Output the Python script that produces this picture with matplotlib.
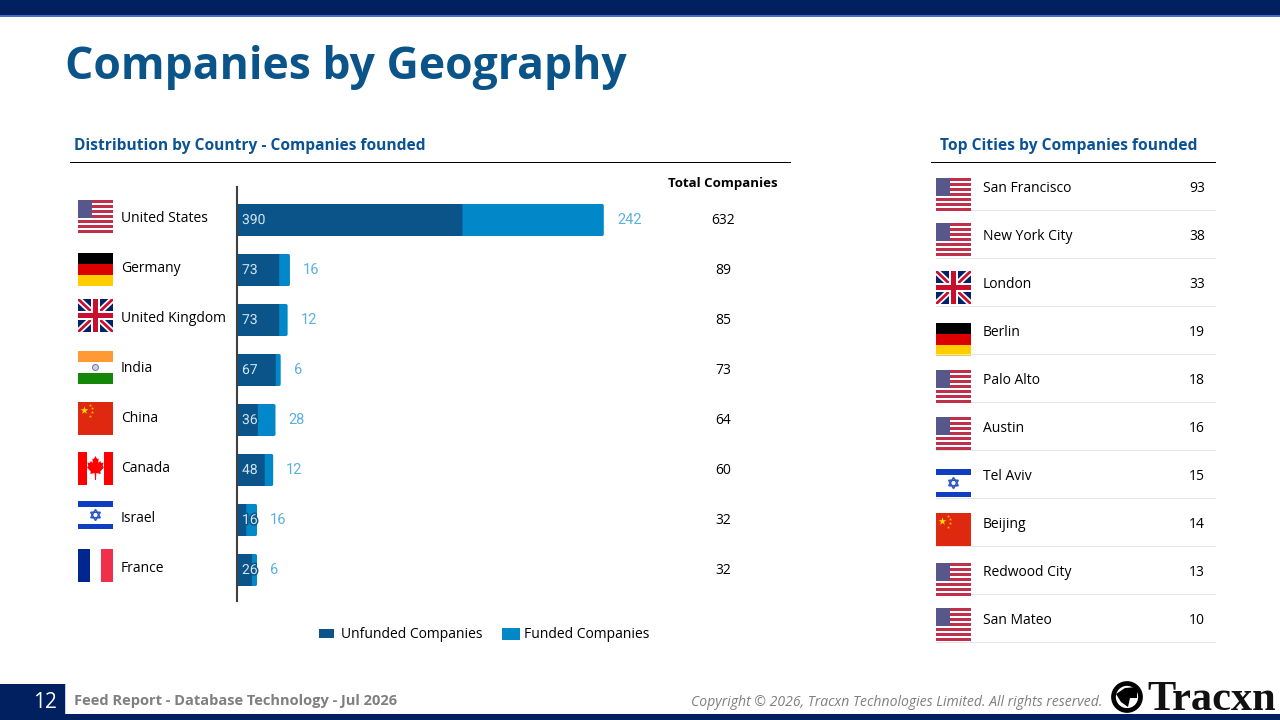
import matplotlib
matplotlib.use('Agg')
import matplotlib.pyplot as plt
import matplotlib.patheffects as pe
from matplotlib.patches import Rectangle, Polygon, Circle

plt.rcParams['font.family'] = ['Open Sans', 'DejaVu Sans']

countries = ['United States', 'Germany', 'United Kingdom', 'India', 'China', 'Canada', 'Israel', 'France']
country_flags = ['us', 'de', 'uk', 'in', 'cn', 'ca', 'il', 'fr']
unfunded = [390, 73, 73, 67, 36, 48, 16, 26]
funded = [242, 16, 12, 6, 28, 12, 16, 6]
totals = [632, 89, 85, 73, 64, 60, 32, 32]

cities = ['San Francisco', 'New York City', 'London', 'Berlin', 'Palo Alto', 'Austin',
          'Tel Aviv', 'Beijing', 'Redwood City', 'San Mateo']
city_flags = ['us', 'us', 'uk', 'de', 'us', 'us', 'il', 'cn', 'us', 'us']
city_counts = [93, 38, 33, 19, 18, 16, 15, 14, 13, 10]

NAVY = '#00205f'
DARK_BLUE = '#0a5489'
LIGHT_BLUE = '#0288c9'
HEAD_BLUE = '#0b5394'

fig = plt.figure(figsize=(12.8, 7.2), dpi=100)

# full figure axes in pixels, for everything that is not the bar chart
page = fig.add_axes([0, 0, 1, 1])
page.set_xlim(0, 1280)
page.set_ylim(720, 0)
page.axis('off')


def rect(x, y, w, h, color, z=1):
    page.add_patch(Rectangle((x, y), w, h, facecolor=color, edgecolor='none', zorder=z))


def flag(kind, x, y, w=35, h=33):
    # y is the top edge of the flag
    if kind == 'us':
        stripe = h / 13
        rect(x, y, w, h, 'white')
        for i in range(0, 13, 2):
            rect(x, y + i * stripe, w, stripe, '#c0304a', 2)
        rect(x, y, w * 0.4, stripe * 7, '#57578c', 3)
    elif kind == 'de':
        rect(x, y, w, h / 3, 'black')
        rect(x, y + h / 3, w, h / 3, '#dd0000')
        rect(x, y + 2 * h / 3, w, h / 3, '#ffce00')
    elif kind == 'uk':
        bg = Rectangle((x, y), w, h, facecolor='#012169', edgecolor='none', zorder=1)
        page.add_patch(bg)
        for c, lw in (('white', 4.5), ('#c8102e', 2)):
            for ys in ((y, y + h), (y + h, y)):
                ln, = page.plot([x, x + w], ys, color=c, lw=lw, zorder=2)
                ln.set_clip_path(bg)
        rect(x + w / 2 - 4.5, y, 9, h, 'white', 3)
        rect(x, y + h / 2 - 4.5, w, 9, 'white', 3)
        rect(x + w / 2 - 2.5, y, 5, h, '#c8102e', 4)
        rect(x, y + h / 2 - 2.5, w, 5, '#c8102e', 4)
    elif kind == 'in':
        rect(x, y, w, h / 3, '#ff9933')
        rect(x, y + 2 * h / 3, w, h / 3, '#138808')
        page.add_patch(Circle((x + w / 2, y + h / 2), 3, facecolor='#c8cfe6', edgecolor='#5a6aa0', lw=0.6, zorder=2))
    elif kind == 'cn':
        rect(x, y, w, h, '#de2910')
        page.scatter([x + 6], [y + 8], s=34, marker='*', color='#ffde00', linewidths=0, zorder=2)
        page.scatter([x + 12, x + 14, x + 14, x + 12], [y + 3, y + 6, y + 10, y + 14], s=6,
                     marker='*', color='#f5b400', linewidths=0, zorder=2)
    elif kind == 'ca':
        rect(x, y, w * 0.25, h, '#ff0000')
        rect(x + w * 0.75, y, w * 0.25, h, '#ff0000')
        cx = x + w / 2
        leaf = [(0, 4), (2, 7), (4, 6.5), (3.2, 11), (6, 9), (7, 11), (10, 10.5), (9, 14), (10.5, 15.5),
                (6, 19.5), (6.5, 22), (1, 21), (0.6, 28), (-0.6, 28), (-1, 21), (-6.5, 22), (-6, 19.5),
                (-10.5, 15.5), (-9, 14), (-10, 10.5), (-7, 11), (-6, 9), (-3.2, 11), (-4, 6.5), (-2, 7)]
        page.add_patch(Polygon([(cx + a * 0.8, y + b) for a, b in leaf], facecolor='#ff0000', edgecolor='none', zorder=2))
    elif kind == 'il':
        rect(x, y, w, 5.5, '#0f3fc0')
        rect(x, y + h - 5.5, w, 5.5, '#0f3fc0')
        cx, cy, r = x + w / 2, y + h / 2, 5.5
        page.add_patch(Polygon([(cx, cy - r), (cx + r * 0.87, cy + r / 2), (cx - r * 0.87, cy + r / 2)],
                               fill=False, edgecolor='#2a55c8', lw=1.1, zorder=2))
        page.add_patch(Polygon([(cx, cy + r), (cx + r * 0.87, cy - r / 2), (cx - r * 0.87, cy - r / 2)],
                               fill=False, edgecolor='#2a55c8', lw=1.1, zorder=2))
    elif kind == 'fr':
        rect(x, y, w / 3, h, '#00268f')
        rect(x + 2 * w / 3, y, w / 3, h, '#f0304a')


def label(x, y, s, size=10, color='black', ha='left', **kw):
    # open sans sits about 2 px high with va center
    page.text(x, y + 2, s, fontsize=size, color=color, ha=ha, va='center', **kw)


# page furniture
rect(0, 0, 1280, 15, NAVY)
rect(0, 15, 1280, 2, '#3f6fc4')
rect(0, 714, 1280, 6, NAVY)
rect(0, 684, 65, 36, NAVY)
rect(65, 684, 1, 30, '#bcd0ea')
label(45, 701, '12', size=15, color='white', ha='center')
label(74, 699, 'Feed Report - Database Technology - Jul 2026', size=10.5, color='#7f7f7f', fontweight='bold')
label(1102, 701, 'Copyright © 2026, Tracxn Technologies Limited. All rights reserved.', size=10.1,
      color='#7f7f7f', ha='right', fontstyle='italic')

# logo
page.add_patch(Circle((1127, 697), 13.5, facecolor='none', edgecolor='black', lw=3.4, zorder=2))
page.add_patch(Polygon([(1116, 694), (1125, 688), (1137, 687), (1137, 698), (1130, 698), (1128, 707), (1121, 702)],
                       facecolor='black', edgecolor='none', zorder=2))
page.text(1147, 700, 'Tracxn', fontsize=30.5, fontweight='bold', family='Liberation Serif', color='#111111',
          va='center', ha='left')

# headings
label(65, 65, 'Companies by Geography', size=32, color=DARK_BLUE, fontweight='bold')
label(74, 144, 'Distribution by Country - Companies founded', size=11.2, color=HEAD_BLUE, fontweight='bold')
label(940, 144, 'Top Cities by Companies founded', size=11.25, color=HEAD_BLUE, fontweight='bold')
rect(70, 162, 721, 1, 'black')
rect(931, 162, 285, 1, 'black')
label(723, 182, 'Total Companies', size=9.5, ha='center', fontweight='bold')

# left table
country_flag_tops = [200, 253, 299, 351, 402, 452, 501, 549]
for i, name in enumerate(countries):
    flag(country_flags[i], 78, country_flag_tops[i], h=28 if country_flags[i] == 'il' else 33)
    label(121, 217 + 50 * i, name)
    label(723, 219 + 50 * i, str(totals[i]), ha='center')

# right table
city_flag_tops = [178, 223, 271, 323, 370, 417, 469, 513, 563, 608]
for i, name in enumerate(cities):
    flag(city_flags[i], 936, city_flag_tops[i], h=28 if city_flags[i] == 'il' else 33)
    label(983, 187 + 48 * i, name)
    label(1205, 187 + 48 * i, str(city_counts[i]), ha='right')
    rect(936, 210 + 48 * i, 280, 1, '#e4e4e4')

# bar chart, one y unit is 50 px and one x unit is 0.578 px
ax = fig.add_axes([237 / 1280, (720 - 601) / 720, 440 / 1280, 414 / 720])
ax.patch.set_alpha(0)
ax.set_xlim(0, 440 / 0.578)
ax.set_ylim(7.62, -0.66)
ypos = list(range(len(countries)))
funded_bars = ax.barh(ypos, funded, left=unfunded, height=0.58, color=LIGHT_BLUE, edgecolor=LIGHT_BLUE, linewidth=2.16,
                      joinstyle='round', label='Funded Companies', zorder=2)
unfunded_bars = ax.barh(ypos, unfunded, height=0.64, color=DARK_BLUE, label='Unfunded Companies', zorder=3)
for bar in list(funded_bars) + list(unfunded_bars):
    bar.set_snap(False)
for s in ('top', 'right', 'bottom'):
    ax.spines[s].set_visible(False)
ax.spines['left'].set_color('#404040')
ax.spines['left'].set_linewidth(1.5)
ax.spines['left'].set_zorder(4)
ax.set_xticks([])
ax.set_yticks([])
for i in ypos:
    ax.annotate(str(unfunded[i]), (0, i), xytext=(3.6, 0), textcoords='offset points', va='center', ha='left',
                fontsize=10, family='Roboto', color='#d5e6f3', zorder=5,
                path_effects=[pe.withStroke(linewidth=2.2, foreground=DARK_BLUE)])
    ax.annotate(str(funded[i]), (unfunded[i] + funded[i], i), xytext=(10.5, 0), textcoords='offset points',
                va='center', ha='left', fontsize=10.5, family='Roboto', color='#5bb0de', zorder=5)

handles, names = ax.get_legend_handles_labels()
fig.legend(handles[::-1], names[::-1], loc='center left', bbox_to_anchor=(319 / 1280, (720 - 635) / 720), ncol=2,
           frameon=False, fontsize=10, handlelength=1.1, handleheight=0.55, handletextpad=0.45, columnspacing=1.5,
           borderpad=0, borderaxespad=0)

fig.savefig('out.png', dpi=100)
